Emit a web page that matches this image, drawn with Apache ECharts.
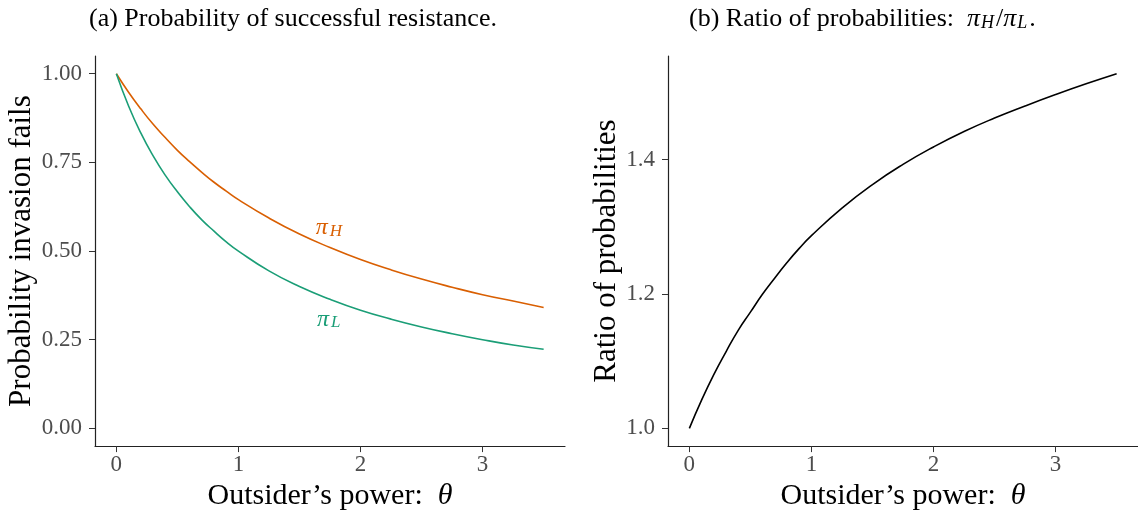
<!DOCTYPE html>
<html>
<head>
<meta charset="utf-8">
<script src="https://cdn.jsdelivr.net/npm/echarts@6.0.0/dist/echarts.min.js"></script>
<style>
  html, body { margin: 0; padding: 0; background: #fff; }
  #chart { width: 1138px; height: 516px; }
</style>
</head>
<body>
<div id="chart"></div>
<script>
// outsider's power (denser where the curves bend most)
var theta = [0, 0.1, 0.2, 0.3, 0.4, 0.5, 0.6, 0.7, 0.8, 0.9, 1, 1.25, 1.5, 1.75, 2, 2.25, 2.5, 2.75, 3, 3.25, 3.5];
// panel (a): probability invasion fails
var piH = [1.000, 0.948, 0.901, 0.858, 0.820, 0.784, 0.752, 0.722, 0.694, 0.669, 0.645,
           0.593, 0.548, 0.510, 0.476, 0.447, 0.421, 0.398, 0.377, 0.359, 0.341];
var piL = [1.000, 0.909, 0.833, 0.769, 0.714, 0.667, 0.625, 0.588, 0.556, 0.526, 0.500,
           0.444, 0.400, 0.364, 0.333, 0.308, 0.286, 0.267, 0.250, 0.235, 0.223];
// panel (b): ratio piH / piL
var ratio = [1.000, 1.042, 1.080, 1.114, 1.146, 1.173, 1.200, 1.224, 1.247, 1.268, 1.287,
             1.328, 1.363, 1.393, 1.419, 1.442, 1.462, 1.480, 1.497, 1.513, 1.528];

var xTicks = [0, 1, 2, 3];
var yTicksA = [0, 0.25, 0.5, 0.75, 1];
var yTicksB = [1.0, 1.2, 1.4];

var FONT = 'Liberation Serif';
var colH = '#D95F02';
var colL = '#1B9E77';

function pairs(xs, ys) {
  return xs.map(function (x, i) { return [x, ys[i]]; });
}

var subRich = {
  pi: { fontFamily: FONT, fontStyle: 'italic', fontSize: 24, verticalAlign: 'top', lineHeight: 24 },
  sub: { fontFamily: FONT, fontStyle: 'italic', fontSize: 17, verticalAlign: 'bottom', lineHeight: 17, padding: [12, 0, 0, 2] },
  it: { fontFamily: FONT, fontStyle: 'italic', fontSize: 30 }
};

function xAxisOpt(idx) {
  return {
    type: 'value', gridIndex: idx,
    min: -0.175, max: 3.675,
    name: 'Outsider\u2019s power:  {it|\u03b8}',
    nameLocation: 'middle', nameGap: 31,
    nameTextStyle: { fontFamily: FONT, fontSize: 30, color: '#000', rich: { it: subRich.it } },
    axisLine: { show: true, onZero: false, lineStyle: { color: '#222', width: 1.2 } },
    axisTick: { show: true, length: 6, lineStyle: { color: '#333', width: 1 }, customValues: xTicks },
    axisLabel: { fontFamily: FONT, fontSize: 23, color: '#4D4D4D', margin: 7, customValues: xTicks },
    splitLine: { show: false }
  };
}

function yAxisOpt(idx, min, max, ticks, digits, title, gap) {
  return {
    type: 'value', gridIndex: idx,
    min: min, max: max,
    name: title,
    nameLocation: 'middle', nameGap: gap,
    nameTextStyle: { fontFamily: FONT, fontSize: 31, color: '#000' },
    axisLine: { show: true, onZero: false, lineStyle: { color: '#222', width: 1.2 } },
    axisTick: { show: true, length: 6, lineStyle: { color: '#333', width: 1 }, customValues: ticks },
    axisLabel: {
      fontFamily: FONT, fontSize: 23, color: '#4D4D4D', margin: 13, customValues: ticks,
      formatter: function (v) { return v.toFixed(digits); }
    },
    splitLine: { show: false }
  };
}

function curveLabel(text, x, y, color) {
  return {
    symbol: 'circle', symbolSize: 0,
    data: [{ coord: [x, y] }],
    label: {
      show: true, position: 'inside', formatter: text, color: color,
      rich: {
        pi: Object.assign({}, subRich.pi, { color: color }),
        sub: Object.assign({}, subRich.sub, { color: color })
      }
    }
  };
}

var chart = echarts.init(document.getElementById('chart'), null, { renderer: 'canvas' });

chart.setOption({
  backgroundColor: '#fff',
  animation: false,
  title: [
    {
      text: '(a) Probability of successful resistance.',
      left: 84, top: 1,
      textStyle: { fontFamily: FONT, fontSize: 26, fontWeight: 'normal', color: '#000' }
    },
    {
      text: '(b) Ratio of probabilities:  {pi|\u03c0}{sub|H}{n|/}{pi|\u03c0}{sub|L}{n|.}',
      left: 684, top: 1,
      textStyle: {
        fontFamily: FONT, fontSize: 26, fontWeight: 'normal', color: '#000',
        rich: {
          pi: { fontFamily: FONT, fontStyle: 'italic', fontSize: 26, verticalAlign: 'top', lineHeight: 26, color: '#000' },
          sub: { fontFamily: FONT, fontStyle: 'italic', fontSize: 18, verticalAlign: 'bottom', lineHeight: 18, padding: [12, 2, 0, 1], color: '#000' },
          n: { fontFamily: FONT, fontSize: 26, verticalAlign: 'top', lineHeight: 26, color: '#000' }
        }
      }
    }
  ],
  grid: [
    { left: 95, right: 573, top: 56, bottom: 68 },
    { left: 668, right: -11, top: 56, bottom: 68 }
  ],
  xAxis: [xAxisOpt(0), xAxisOpt(1)],
  yAxis: [
    yAxisOpt(0, -0.05, 1.05, yTicksA, 2, 'Probability invasion fails', 51),
    yAxisOpt(1, 0.9736, 1.5544, yTicksB, 1, 'Ratio of probabilities', 46)
  ],
  series: [
    {
      type: 'line', xAxisIndex: 0, yAxisIndex: 0,
      data: pairs(theta, piH), smooth: 0.5, showSymbol: false,
      lineStyle: { color: colH, width: 1.6 },
      markPoint: curveLabel('{pi|\u03c0}{sub|H}', 1.74, 0.565, colH)
    },
    {
      type: 'line', xAxisIndex: 0, yAxisIndex: 0,
      data: pairs(theta, piL), smooth: 0.5, showSymbol: false,
      lineStyle: { color: colL, width: 1.6 },
      markPoint: curveLabel('{pi|\u03c0}{sub|L}', 1.74, 0.307, colL)
    },
    {
      type: 'line', xAxisIndex: 1, yAxisIndex: 1,
      data: pairs(theta, ratio), smooth: 0.5, showSymbol: false,
      lineStyle: { color: '#000', width: 1.6 }
    }
  ]
});
</script>
</body>
</html>
